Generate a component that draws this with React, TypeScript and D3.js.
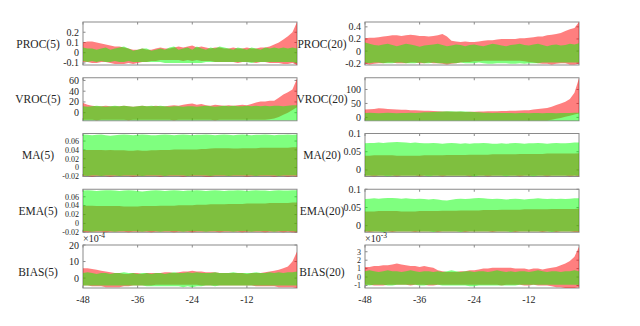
import * as d3 from 'd3';
import React from 'react';

// hours before event
const hours = d3.range(-48, 0);
const xTicks = [-48, -36, -24, -12];

// ---- PROC(5)
const proc5RedHi = [
  0.10, 0.11, 0.11, 0.10, 0.09, 0.08, 0.07, 0.06,
  0.06, 0.05, 0.04, 0.03, 0.03, 0.04, 0.03, 0.03,
  0.04, 0.05, 0.04, 0.04, 0.05, 0.06, 0.05, 0.06,
  0.07, 0.05, 0.06, 0.05, 0.04, 0.05, 0.05, 0.04,
  0.04, 0.05, 0.04, 0.04, 0.05, 0.04, 0.04, 0.05,
  0.05, 0.06, 0.08, 0.10, 0.13, 0.16, 0.20, 0.30,
];
const proc5RedLo = [
  -0.09, -0.09, -0.10, -0.10, -0.09, -0.09, -0.10, -0.11,
  -0.11, -0.11, -0.10, -0.11, -0.10, -0.09, -0.09, -0.08,
  -0.08, -0.07, -0.07, -0.07, -0.07, -0.07, -0.08, -0.07,
  -0.08, -0.07, -0.08, -0.08, -0.08, -0.09, -0.09, -0.09,
  -0.09, -0.09, -0.10, -0.09, -0.09, -0.09, -0.10, -0.09,
  -0.09, -0.10, -0.10, -0.10, -0.11, -0.11, -0.10, -0.12,
];
const proc5GreenHi = [
  0.05, 0.04, 0.04, 0.03, 0.04, 0.05, 0.03, 0.04,
  0.05, 0.06, 0.04, 0.02, 0.03, 0.04, 0.04, 0.02,
  0.03, 0.04, 0.03, 0.05, 0.06, 0.03, 0.04, 0.05,
  0.03, 0.06, 0.04, 0.03, 0.05, 0.04, 0.06, 0.05,
  0.04, 0.03, 0.05, 0.04, 0.03, 0.05, 0.04, 0.03,
  0.05, 0.04, 0.05, 0.04, 0.05, 0.04, 0.05, 0.04,
];
const proc5GreenLo = [
  -0.08, -0.09, -0.08, -0.09, -0.08, -0.09, -0.09, -0.08,
  -0.09, -0.09, -0.08, -0.09, -0.09, -0.09, -0.09, -0.09,
  -0.09, -0.09, -0.10, -0.10, -0.10, -0.10, -0.10, -0.10,
  -0.10, -0.10, -0.10, -0.09, -0.09, -0.09, -0.09, -0.09,
  -0.09, -0.09, -0.09, -0.09, -0.09, -0.10, -0.09, -0.09,
  -0.09, -0.09, -0.09, -0.09, -0.09, -0.09, -0.09, -0.10,
];

// ---- VROC(5)
const vroc5RedHi = [
  18, 15, 13, 12, 12, 13, 12, 12,
  12, 13, 12, 11, 12, 13, 12, 12,
  13, 12, 12, 13, 14, 13, 15, 16,
  17, 15, 16, 14, 13, 15, 14, 13,
  14, 13, 14, 15, 14, 16, 19, 21,
  21, 22, 22, 28, 34, 38, 43, 63,
];
const vroc5RedLo = [
  -13, -13, -13, -14, -13, -13, -13, -13,
  -13, -13, -14, -13, -13, -13, -13, -13,
  -13, -13, -13, -13, -14, -13, -13, -13,
  -13, -13, -13, -13, -13, -14, -13, -13,
  -13, -13, -13, -13, -13, -13, -13, -13,
  -13, -12, -11, -8, -4, 0, 5, 10,
];
const vroc5GreenHi = [
  12, 11, 12, 13, 12, 11, 12, 13,
  12, 13, 12, 11, 12, 13, 12, 13,
  12, 13, 12, 11, 12, 12, 11, 12,
  12, 11, 12, 13, 12, 11, 12, 13,
  12, 13, 12, 12, 13, 12, 13, 12,
  13, 12, 13, 13, 12, 13, 14, 14,
];
const vroc5GreenLo = [
  -14, -14, -14, -14, -14, -14, -14, -14,
  -14, -14, -14, -14, -14, -14, -14, -14,
  -14, -14, -14, -14, -14, -14, -14, -14,
  -14, -14, -14, -14, -14, -14, -14, -14,
  -14, -14, -14, -14, -14, -14, -14, -14,
  -14, -14, -14, -14, -14, -14, -14, -14,
];

// ---- MA(5)
const ma5RedHi = [
  0.040, 0.040, 0.040, 0.040, 0.040, 0.039, 0.040, 0.039,
  0.039, 0.039, 0.038, 0.038, 0.039, 0.038, 0.038, 0.039,
  0.039, 0.040, 0.040, 0.040, 0.041, 0.041, 0.041, 0.041,
  0.041, 0.041, 0.042, 0.042, 0.043, 0.044, 0.044, 0.044,
  0.044, 0.043, 0.043, 0.044, 0.044, 0.044, 0.044, 0.045,
  0.045, 0.045, 0.045, 0.045, 0.045, 0.045, 0.046, 0.046,
];
const ma5RedLo = [
  -0.019, -0.019, -0.020, -0.019, -0.019, -0.019, -0.020, -0.019,
  -0.019, -0.019, -0.019, -0.020, -0.019, -0.019, -0.019, -0.019,
  -0.019, -0.020, -0.019, -0.019, -0.019, -0.019, -0.020, -0.019,
  -0.019, -0.019, -0.019, -0.020, -0.020, -0.019, -0.019, -0.019,
  -0.019, -0.019, -0.019, -0.019, -0.020, -0.019, -0.019, -0.019,
  -0.019, -0.019, -0.020, -0.019, -0.019, -0.020, -0.019, -0.020,
];
const ma5GreenHi = [
  0.075, 0.074, 0.073, 0.074, 0.075, 0.073, 0.072, 0.073,
  0.074, 0.075, 0.074, 0.073, 0.074, 0.075, 0.074, 0.073,
  0.073, 0.074, 0.075, 0.074, 0.073, 0.074, 0.075, 0.074,
  0.073, 0.074, 0.074, 0.075, 0.074, 0.073, 0.074, 0.075,
  0.074, 0.073, 0.074, 0.075, 0.074, 0.073, 0.074, 0.074,
  0.075, 0.074, 0.073, 0.074, 0.074, 0.075, 0.074, 0.075,
];
const ma5GreenLo = [
  -0.018, -0.019, -0.018, -0.018, -0.019, -0.018, -0.018, -0.018,
  -0.019, -0.018, -0.018, -0.018, -0.018, -0.019, -0.018, -0.018,
  -0.018, -0.018, -0.019, -0.018, -0.018, -0.018, -0.018, -0.019,
  -0.018, -0.018, -0.018, -0.018, -0.019, -0.018, -0.018, -0.018,
  -0.019, -0.018, -0.018, -0.018, -0.018, -0.018, -0.019, -0.018,
  -0.018, -0.018, -0.018, -0.019, -0.018, -0.018, -0.018, -0.018,
];

// ---- EMA(5)
const ema5RedHi = [
  0.040, 0.040, 0.040, 0.039, 0.039, 0.039, 0.039, 0.039,
  0.039, 0.038, 0.038, 0.038, 0.038, 0.039, 0.039, 0.039,
  0.039, 0.040, 0.040, 0.040, 0.040, 0.041, 0.041, 0.041,
  0.041, 0.042, 0.042, 0.042, 0.043, 0.043, 0.043, 0.043,
  0.044, 0.044, 0.044, 0.044, 0.045, 0.045, 0.045, 0.045,
  0.045, 0.046, 0.046, 0.046, 0.046, 0.046, 0.047, 0.047,
];
const ema5RedLo = [
  -0.019, -0.020, -0.019, -0.019, -0.019, -0.020, -0.019, -0.019,
  -0.019, -0.019, -0.020, -0.019, -0.019, -0.019, -0.019, -0.020,
  -0.019, -0.019, -0.019, -0.019, -0.020, -0.019, -0.019, -0.019,
  -0.020, -0.019, -0.019, -0.019, -0.019, -0.019, -0.020, -0.019,
  -0.019, -0.019, -0.019, -0.020, -0.019, -0.019, -0.019, -0.019,
  -0.020, -0.019, -0.019, -0.019, -0.020, -0.019, -0.020, -0.020,
];
const ema5GreenHi = [
  0.074, 0.075, 0.074, 0.073, 0.074, 0.075, 0.075, 0.074,
  0.073, 0.074, 0.075, 0.074, 0.073, 0.072, 0.073, 0.074,
  0.075, 0.074, 0.073, 0.074, 0.075, 0.074, 0.073, 0.074,
  0.074, 0.075, 0.074, 0.073, 0.074, 0.075, 0.074, 0.073,
  0.074, 0.074, 0.075, 0.074, 0.073, 0.074, 0.075, 0.074,
  0.074, 0.073, 0.074, 0.075, 0.074, 0.074, 0.075, 0.075,
];
const ema5GreenLo = [
  -0.018, -0.018, -0.019, -0.018, -0.018, -0.018, -0.018, -0.019,
  -0.018, -0.018, -0.018, -0.018, -0.018, -0.019, -0.018, -0.018,
  -0.018, -0.019, -0.018, -0.018, -0.018, -0.018, -0.019, -0.018,
  -0.018, -0.018, -0.018, -0.019, -0.018, -0.018, -0.018, -0.018,
  -0.018, -0.019, -0.018, -0.018, -0.018, -0.019, -0.018, -0.018,
  -0.018, -0.018, -0.019, -0.018, -0.018, -0.018, -0.018, -0.019,
];

// ---- BIAS(5), x 1e-4
const bias5RedHi = [
  6, 6, 5.5, 5, 4.5, 4, 3.5, 3,
  3, 2.5, 2.5, 3, 3, 2.5, 3, 3,
  3, 3, 3.5, 3.5, 3, 3.5, 4, 4,
  4.5, 4, 4, 3.5, 3.5, 3.5, 3, 3,
  3, 3, 3, 3, 2.5, 3, 3, 3,
  3.5, 4, 4.5, 5, 6, 7, 10, 16,
];
const bias5RedLo = [
  -4.5, -4.5, -5, -5, -5, -5.5, -5.5, -5.5,
  -5.5, -5, -5, -4.5, -4.5, -4.5, -4.5, -4.5,
  -4, -4, -4, -4, -4, -4, -4, -4,
  -4, -4, -4.5, -4.5, -4.5, -4.5, -4.5, -4.5,
  -4.5, -4.5, -4.5, -4.5, -4.5, -4.5, -5, -5,
  -5, -5, -5, -5.5, -5.5, -5.5, -5.5, -6,
];
const bias5GreenHi = [
  3, 3.5, 3, 2.5, 3, 3, 2.5, 3,
  3, 3.5, 3, 3, 2.5, 3, 3, 2.5,
  3, 3, 2.5, 3, 3.5, 3, 3, 3.5,
  3, 3.5, 3, 3, 3, 3.5, 3, 3,
  3, 3.5, 3, 3, 3, 3, 3.5, 3,
  3, 3.5, 3, 3.5, 3, 3.5, 3.5, 4,
];
const bias5GreenLo = [
  -4.5, -4.5, -4.5, -4.5, -4.5, -4.5, -4.5, -4.5,
  -4.5, -4.5, -4.5, -4.5, -4.5, -4.5, -5, -5,
  -5, -5, -5, -5, -5, -5, -5.5, -5,
  -5.5, -5, -5, -4.5, -4.5, -5, -4.5, -4.5,
  -4.5, -4.5, -4.5, -4.5, -4.5, -4.5, -4.5, -4.5,
  -4.5, -4.5, -4.5, -4.5, -4.5, -4.5, -4.5, -4.5,
];

// ---- PROC(20)
const proc20RedHi = [
  0.21, 0.22, 0.22, 0.23, 0.24, 0.25, 0.26, 0.26,
  0.25, 0.26, 0.27, 0.26, 0.25, 0.25, 0.24, 0.25,
  0.26, 0.28, 0.24, 0.17, 0.16, 0.15, 0.16, 0.15,
  0.15, 0.16, 0.17, 0.18, 0.18, 0.19, 0.20, 0.20,
  0.20, 0.20, 0.21, 0.21, 0.22, 0.23, 0.24, 0.24,
  0.26, 0.27, 0.28, 0.30, 0.33, 0.36, 0.38, 0.48,
];
const proc20RedLo = [
  -0.21, -0.22, -0.21, -0.20, -0.20, -0.19, -0.19, -0.20,
  -0.20, -0.20, -0.19, -0.19, -0.20, -0.20, -0.19, -0.20,
  -0.20, -0.21, -0.22, -0.21, -0.20, -0.19, -0.18, -0.18,
  -0.17, -0.17, -0.16, -0.16, -0.16, -0.16, -0.16, -0.16,
  -0.16, -0.16, -0.16, -0.17, -0.18, -0.19, -0.20, -0.21,
  -0.21, -0.22, -0.21, -0.20, -0.20, -0.22, -0.22, -0.21,
];
const proc20GreenHi = [
  0.14, 0.12, 0.10, 0.09, 0.11, 0.12, 0.10, 0.08,
  0.10, 0.12, 0.11, 0.09, 0.07, 0.09, 0.10, 0.11,
  0.12, 0.10, 0.08, 0.09, 0.11, 0.10, 0.08, 0.10,
  0.11, 0.09, 0.08, 0.10, 0.12, 0.11, 0.09, 0.08,
  0.10, 0.11, 0.12, 0.10, 0.09, 0.11, 0.12, 0.10,
  0.08, 0.10, 0.11, 0.09, 0.10, 0.12, 0.11, 0.13,
];
const proc20GreenLo = [
  -0.19, -0.20, -0.19, -0.19, -0.20, -0.20, -0.20, -0.19,
  -0.19, -0.20, -0.20, -0.20, -0.19, -0.20, -0.20, -0.19,
  -0.20, -0.20, -0.21, -0.20, -0.20, -0.19, -0.20, -0.20,
  -0.20, -0.19, -0.20, -0.21, -0.21, -0.20, -0.20, -0.20,
  -0.21, -0.21, -0.20, -0.21, -0.20, -0.20, -0.20, -0.19,
  -0.19, -0.19, -0.19, -0.19, -0.19, -0.19, -0.19, -0.19,
];

// ---- VROC(20)
const vroc20RedHi = [
  28, 29, 30, 33, 32, 30, 29, 28,
  27, 27, 26, 26, 25, 24, 24, 23,
  22, 21, 21, 20, 20, 20, 19, 20,
  20, 21, 21, 22, 22, 22, 23, 23,
  24, 24, 25, 26, 26, 28, 30, 32,
  34, 38, 44, 50, 56, 66, 88, 140,
];
const vroc20RedLo = [
  -10, -10, -10, -10, -10, -10, -10, -10,
  -10, -10, -10, -10, -10, -10, -10, -10,
  -10, -10, -10, -10, -10, -10, -10, -10,
  -10, -10, -10, -10, -10, -10, -10, -10,
  -10, -10, -10, -10, -10, -10, -10, -10,
  -10, -8, -5, -2, 2, 6, 10, 14,
];
const vroc20GreenHi = [
  16, 17, 16, 15, 16, 17, 16, 15,
  16, 16, 17, 16, 17, 18, 18, 19,
  20, 21, 22, 22, 21, 22, 21, 20,
  19, 18, 17, 17, 16, 17, 16, 16,
  16, 15, 16, 16, 15, 16, 16, 15,
  16, 16, 15, 16, 16, 16, 17, 17,
];
const vroc20GreenLo = [
  -11, -11, -11, -11, -11, -11, -11, -11,
  -11, -11, -11, -11, -11, -11, -11, -11,
  -11, -11, -11, -11, -11, -11, -11, -11,
  -11, -11, -11, -11, -11, -11, -11, -11,
  -11, -11, -11, -11, -11, -11, -11, -11,
  -11, -11, -11, -11, -11, -11, -11, -11,
];

// ---- MA(20)
const ma20RedHi = [
  0.039, 0.039, 0.040, 0.040, 0.040, 0.040, 0.040, 0.039,
  0.039, 0.039, 0.039, 0.039, 0.039, 0.040, 0.040, 0.040,
  0.040, 0.040, 0.041, 0.041, 0.041, 0.041, 0.041, 0.042,
  0.042, 0.042, 0.042, 0.042, 0.043, 0.043, 0.043, 0.043,
  0.043, 0.043, 0.044, 0.044, 0.044, 0.044, 0.044, 0.044,
  0.045, 0.045, 0.045, 0.045, 0.045, 0.045, 0.045, 0.046,
];
const ma20RedLo = [
  -0.016, -0.016, -0.017, -0.016, -0.016, -0.016, -0.016, -0.017,
  -0.016, -0.016, -0.016, -0.016, -0.017, -0.016, -0.016, -0.016,
  -0.016, -0.017, -0.016, -0.016, -0.016, -0.016, -0.016, -0.017,
  -0.016, -0.016, -0.016, -0.017, -0.016, -0.016, -0.016, -0.016,
  -0.016, -0.016, -0.017, -0.016, -0.016, -0.016, -0.016, -0.016,
  -0.017, -0.016, -0.016, -0.016, -0.016, -0.017, -0.016, -0.017,
];
const ma20GreenHi = [
  0.073, 0.074, 0.074, 0.075, 0.074, 0.075, 0.076, 0.077,
  0.076, 0.075, 0.074, 0.075, 0.074, 0.073, 0.073, 0.074,
  0.073, 0.072, 0.073, 0.074, 0.073, 0.072, 0.073, 0.072,
  0.073, 0.073, 0.074, 0.073, 0.072, 0.072, 0.073, 0.072,
  0.073, 0.074, 0.073, 0.072, 0.073, 0.073, 0.074, 0.073,
  0.072, 0.073, 0.074, 0.073, 0.073, 0.074, 0.075, 0.075,
];
const ma20GreenLo = [
  -0.016, -0.016, -0.016, -0.016, -0.016, -0.017, -0.016, -0.016,
  -0.016, -0.016, -0.016, -0.016, -0.016, -0.016, -0.017, -0.016,
  -0.016, -0.016, -0.016, -0.016, -0.016, -0.016, -0.016, -0.016,
  -0.017, -0.016, -0.016, -0.016, -0.016, -0.016, -0.016, -0.017,
  -0.016, -0.016, -0.016, -0.016, -0.016, -0.017, -0.016, -0.016,
  -0.016, -0.016, -0.016, -0.016, -0.016, -0.016, -0.016, -0.016,
];

// ---- EMA(20)
const ema20RedHi = [
  0.039, 0.039, 0.039, 0.040, 0.040, 0.040, 0.040, 0.040,
  0.039, 0.039, 0.039, 0.039, 0.040, 0.040, 0.040, 0.040,
  0.040, 0.041, 0.041, 0.041, 0.041, 0.042, 0.042, 0.042,
  0.042, 0.042, 0.043, 0.043, 0.043, 0.043, 0.044, 0.044,
  0.044, 0.044, 0.044, 0.045, 0.045, 0.045, 0.045, 0.045,
  0.045, 0.046, 0.046, 0.046, 0.046, 0.046, 0.046, 0.047,
];
const ema20RedLo = [
  -0.016, -0.017, -0.016, -0.016, -0.016, -0.016, -0.017, -0.016,
  -0.016, -0.016, -0.016, -0.017, -0.016, -0.016, -0.016, -0.016,
  -0.017, -0.016, -0.016, -0.016, -0.016, -0.016, -0.017, -0.016,
  -0.016, -0.016, -0.016, -0.016, -0.017, -0.016, -0.016, -0.016,
  -0.016, -0.017, -0.016, -0.016, -0.016, -0.016, -0.016, -0.017,
  -0.016, -0.016, -0.017, -0.016, -0.016, -0.016, -0.017, -0.017,
];
const ema20GreenHi = [
  0.073, 0.074, 0.075, 0.074, 0.075, 0.076, 0.076, 0.075,
  0.074, 0.075, 0.074, 0.073, 0.074, 0.073, 0.072, 0.073,
  0.072, 0.070, 0.069, 0.071, 0.073, 0.074, 0.073, 0.074,
  0.075, 0.076, 0.075, 0.074, 0.073, 0.074, 0.073, 0.072,
  0.073, 0.074, 0.073, 0.072, 0.073, 0.074, 0.075, 0.074,
  0.073, 0.074, 0.073, 0.074, 0.073, 0.074, 0.075, 0.075,
];
const ema20GreenLo = [
  -0.016, -0.016, -0.016, -0.016, -0.017, -0.016, -0.016, -0.016,
  -0.016, -0.016, -0.016, -0.016, -0.016, -0.016, -0.016, -0.017,
  -0.016, -0.016, -0.016, -0.016, -0.016, -0.017, -0.016, -0.016,
  -0.016, -0.016, -0.016, -0.016, -0.016, -0.016, -0.016, -0.016,
  -0.017, -0.016, -0.016, -0.016, -0.016, -0.016, -0.016, -0.016,
  -0.016, -0.017, -0.016, -0.016, -0.016, -0.016, -0.016, -0.016,
];

// ---- BIAS(20), x 1e-3
const bias20RedHi = [
  1.2, 1.2, 1.3, 1.3, 1.4, 1.4, 1.5, 1.6,
  1.5, 1.4, 1.3, 1.3, 1.2, 1.3, 1.2, 1.1,
  0.8, 0.7, 0.6, 0.6, 0.6, 0.7, 0.7, 0.8,
  0.8, 0.9, 1.0, 1.0, 1.1, 1.1, 1.1, 1.1,
  1.1, 1.0, 1.0, 1.0, 0.9, 1.0, 1.0, 0.9,
  1.0, 1.1, 1.2, 1.4, 1.6, 1.9, 2.4, 3.6,
];
const bias20RedLo = [
  -0.9, -0.9, -1.0, -1.0, -1.0, -0.9, -0.9, -0.9,
  -0.9, -0.9, -1.0, -0.9, -0.9, -0.9, -1.0, -1.0,
  -0.9, -0.9, -0.9, -0.9, -0.9, -0.9, -0.9, -0.9,
  -0.9, -0.9, -0.9, -0.9, -0.9, -0.9, -1.0, -0.9,
  -0.9, -0.9, -0.9, -1.0, -1.0, -0.9, -1.0, -1.0,
  -1.0, -1.1, -1.2, -1.2, -1.3, -1.3, -1.3, -1.2,
];
const bias20GreenHi = [
  0.7, 0.8, 0.7, 0.6, 0.7, 0.8, 0.7, 0.7,
  0.6, 0.7, 0.8, 0.7, 0.6, 0.7, 0.7, 0.6,
  0.7, 0.6, 0.7, 0.8, 0.7, 0.6, 0.7, 0.7,
  0.6, 0.7, 0.7, 0.6, 0.7, 0.8, 0.7, 0.6,
  0.7, 0.6, 0.7, 0.7, 0.6, 0.7, 0.8, 0.7,
  0.6, 0.7, 0.7, 0.6, 0.7, 0.7, 0.8, 0.7,
];
const bias20GreenLo = [
  -0.9, -1.0, -0.9, -0.9, -0.9, -1.0, -1.0, -0.9,
  -0.9, -0.9, -0.9, -0.9, -1.0, -1.0, -0.9, -0.9,
  -0.9, -1.0, -1.0, -1.0, -1.0, -1.0, -1.0, -1.1,
  -1.1, -1.0, -1.0, -1.0, -1.0, -1.0, -1.0, -1.0,
  -1.0, -1.0, -0.9, -0.9, -0.9, -0.9, -0.9, -0.9,
  -0.9, -0.9, -0.9, -0.9, -0.9, -0.9, -0.9, -0.9,
];

// labels, y domains, ticks
const labels = ['PROC(5)', 'VROC(5)', 'MA(5)', 'EMA(5)', 'BIAS(5)', 'PROC(20)', 'VROC(20)', 'MA(20)', 'EMA(20)', 'BIAS(20)'];
const yDomains = [
  [-0.12, 0.3], [-15, 65], [-0.02, 0.077], [-0.02, 0.077], [-6, 20],
  [-0.23, 0.48], [-12, 142], [-0.018, 0.1], [-0.018, 0.1], [-1.3, 3.8],
];
const yTicks = [
  [-0.1, 0, 0.1, 0.2], [0, 20, 40, 60], [-0.02, 0, 0.02, 0.04, 0.06], [-0.02, 0, 0.02, 0.04, 0.06], [0, 10, 20],
  [-0.2, 0, 0.2, 0.4], [0, 50, 100], [0, 0.05, 0.1], [0, 0.05, 0.1], [-1, 0, 1, 2, 3],
];
const exponents = [null, null, null, null, '-4', null, null, null, null, '-3'];

const redHis = [proc5RedHi, vroc5RedHi, ma5RedHi, ema5RedHi, bias5RedHi, proc20RedHi, vroc20RedHi, ma20RedHi, ema20RedHi, bias20RedHi];
const redLos = [proc5RedLo, vroc5RedLo, ma5RedLo, ema5RedLo, bias5RedLo, proc20RedLo, vroc20RedLo, ma20RedLo, ema20RedLo, bias20RedLo];
const greenHis = [proc5GreenHi, vroc5GreenHi, ma5GreenHi, ema5GreenHi, bias5GreenHi, proc20GreenHi, vroc20GreenHi, ma20GreenHi, ema20GreenHi, bias20GreenHi];
const greenLos = [proc5GreenLo, vroc5GreenLo, ma5GreenLo, ema5GreenLo, bias5GreenLo, proc20GreenLo, vroc20GreenLo, ma20GreenLo, ema20GreenLo, bias20GreenLo];

const WIDTH = 640;
const HEIGHT = 326;
const colLeft = [83, 365];
const plotW = 214;
const plotH = 43;
const rowTop = (r: number) => 22 + r * 55.75;
const FONT = '"Liberation Serif", "Times New Roman", serif';
const AXIS = '#8a8a8a';
const TEXT = '#262626';

const fmt = (v: number) => String(v);

const Panel = ({ idx }: { idx: number }) => {
  const col = idx < 5 ? 0 : 1;
  const row = idx % 5;
  const left = colLeft[col];
  const top = rowTop(row);
  const x = d3.scaleLinear().domain([-48, -1]).range([0, plotW]);
  const y = d3.scaleLinear().domain(yDomains[idx]).range([plotH, 0]);

  const band = (hi: number[], lo: number[]) =>
    d3
      .area<number>()
      .x((_, i) => x(hours[i]))
      .y0((_, i) => y(lo[i]))
      .y1((d) => y(d))(hi) || '';

  const tickLen = 2.5;
  const isBottom = row === 4;
  const labelX = col === 0 ? -45 : -43;
  const labelY = plotH / 2 + (exponents[idx] ? 9 : 4);
  // five ticks on a 43px axis are tight, use smaller labels there
  const tickFont = yTicks[idx].length === 5 ? 8 : 10;

  return (
    <g transform={`translate(${left},${top})`}>
      {/* box and inward ticks */}
      <rect x={0} y={0} width={plotW} height={plotH} fill="none" stroke={AXIS} strokeWidth={1} />
      {xTicks.map((t) => (
        <g key={`xt${t}`} stroke={AXIS}>
          <line x1={x(t)} x2={x(t)} y1={plotH} y2={plotH - tickLen} />
          <line x1={x(t)} x2={x(t)} y1={0} y2={tickLen} />
        </g>
      ))}
      {yTicks[idx].map((t) => (
        <g key={`yt${t}`}>
          <line x1={0} x2={tickLen} y1={y(t)} y2={y(t)} stroke={AXIS} />
          <line x1={plotW} x2={plotW - tickLen} y1={y(t)} y2={y(t)} stroke={AXIS} />
          <text x={-4} y={y(t)} dy="0.35em" textAnchor="end" fontSize={tickFont} fill={TEXT}>
            {fmt(t)}
          </text>
        </g>
      ))}
      {/* red first, green over it */}
      <path d={band(redHis[idx], redLos[idx])} fill="#ff0000" fillOpacity={0.5} />
      <path d={band(greenHis[idx], greenLos[idx])} fill="#00ff00" fillOpacity={0.5} />
      <text x={labelX} y={labelY} textAnchor="middle" fontSize={11.5} fill={TEXT}>
        {labels[idx]}
      </text>
      {exponents[idx] && (
        <text x={0} y={-3} fontSize={10} fill={TEXT}>
          ×10
          <tspan dy={-4} fontSize={7.5}>
            {exponents[idx]}
          </tspan>
        </text>
      )}
      {isBottom &&
        xTicks.map((t) => (
          <text key={`xl${t}`} x={x(t)} y={plotH + 15} textAnchor="middle" fontSize={10} fill={TEXT}>
            {fmt(t)}
          </text>
        ))}
    </g>
  );
};

export default function App() {
  return (
    <svg
      width={WIDTH}
      height={HEIGHT}
      style={{ position: 'absolute', left: 0, top: 0, background: '#fff' }}
      fontFamily={FONT}
    >
      <rect width={WIDTH} height={HEIGHT} fill="#fff" />
      {labels.map((_, i) => (
        <Panel key={labels[i]} idx={i} />
      ))}
    </svg>
  );
}
